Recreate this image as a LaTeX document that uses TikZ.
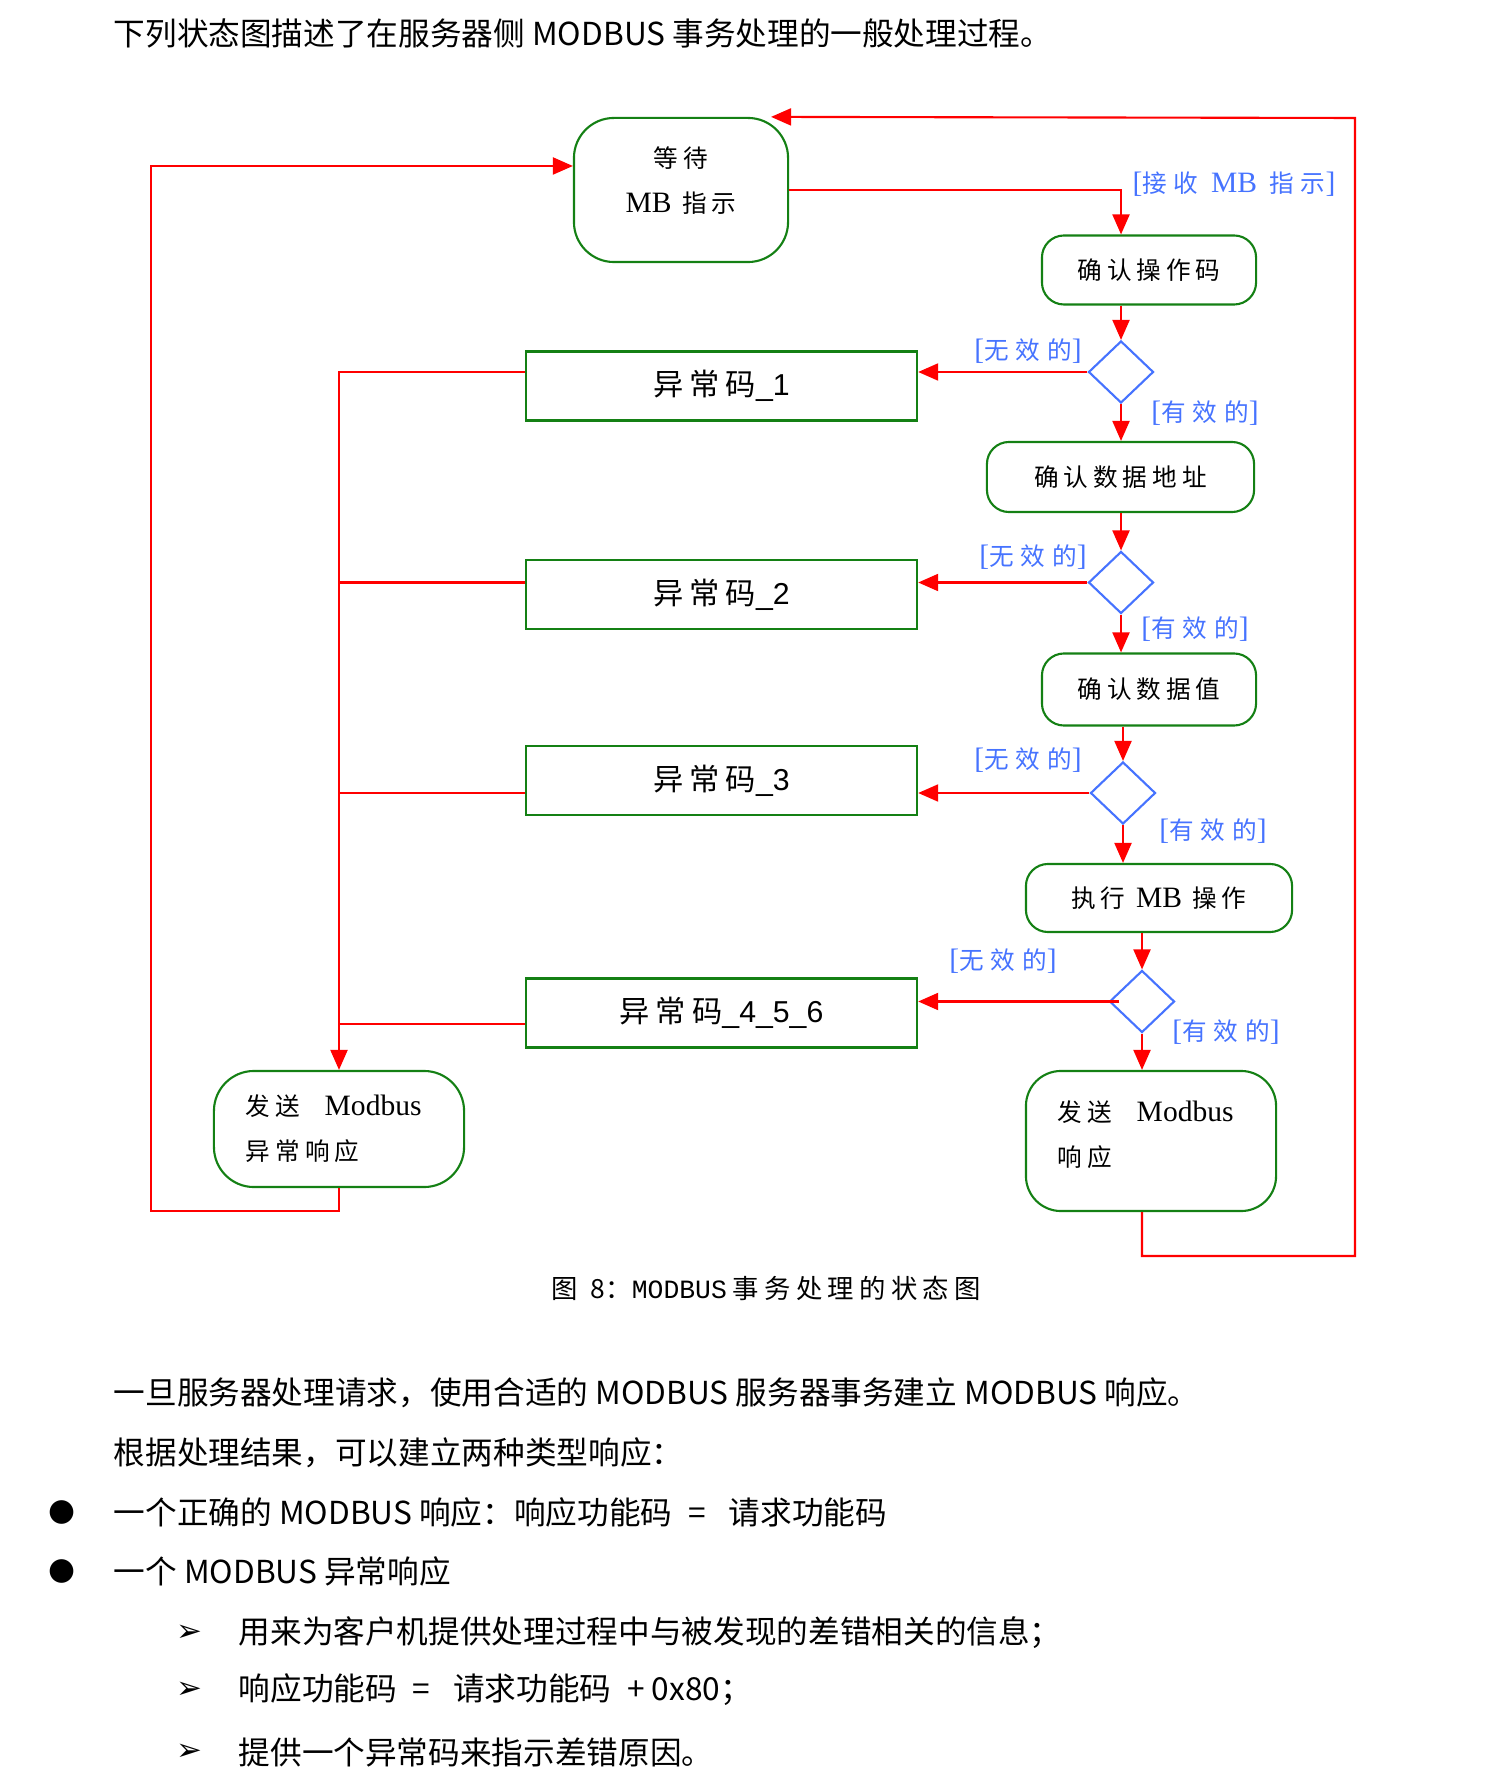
\documentclass[tikz,border=0pt]{standalone}
\usepackage{fontspec}
\usepackage{tikz}
\usetikzlibrary{arrows.meta,shapes.geometric,positioning,calc}
\newfontfamily\cjk{Noto Sans CJK SC}
\newfontfamily\cjksp[LetterSpace=20]{Noto Sans CJK SC}
\newfontfamily\cjkwide[LetterSpace=28]{Noto Sans CJK SC}
\newfontfamily\tms[Scale=1.2]{Liberation Serif}
\newfontfamily\arl{Liberation Sans}
\newfontfamily\mono{Liberation Mono}
\newfontfamily\dingfont{DejaVu Sans}
\definecolor{boxgreen}{RGB}{20,128,20}
\definecolor{guardblue}{RGB}{70,115,255}
\definecolor{flowred}{RGB}{255,0,0}

\begin{document}
\begin{tikzpicture}[x=0.01cm,y=-0.01cm,
    state/.style={draw=boxgreen,line width=0.6pt,rounded corners=0.22cm,inner sep=0pt,font=\fontsize{7}{12.8}\selectfont\cjksp},
    errbox/.style={draw=boxgreen,line width=0.6pt,minimum width=3.91cm,minimum height=0.69cm,inner sep=0pt,font=\fontsize{8.6}{10}\selectfont\cjksp},
    choice/.style={diamond,draw=guardblue,line width=0.6pt,minimum width=0.65cm,minimum height=0.62cm,inner sep=0pt},
    guard/.style={text=guardblue,inner sep=0pt,font=\fontsize{7}{8}\selectfont\cjkwide},
    flow/.style={draw=flowred,line width=0.6pt,-{Triangle[length=0.2cm,width=0.17cm]}},
    link/.style={draw=flowred,line width=0.6pt},
    para/.style={anchor=west,inner sep=0pt,font=\fontsize{9}{10}\selectfont\cjk}]
  \useasboundingbox (0,0) rectangle (1501,1777);

  \node[para] (intro) at (113,34) {下列状态图描述了在服务器侧 MODBUS 事务处理的一般处理过程。};

  \node[state,minimum width=2.14cm,minimum height=1.44cm,rounded corners=0.4cm,align=center,text depth=0.2cm] (wait) at (681,190) {等待\\{\tms MB} 指示};
  \node[state,minimum width=2.14cm,minimum height=0.69cm] (chkfc) at (1149,270) {确认操作码};
  \node[choice] (d1) at (1121,372) {};
  \node[errbox] (err1) at (721.5,386) {异常码{\arl\_1}};
  \node[state,minimum width=2.67cm,minimum height=0.70cm] (chkaddr) at (1120.5,477) {确认数据地址};
  \node[choice] (d2) at (1121,582.5) {};
  \node[errbox] (err2) at (721.5,594.5) {异常码{\arl\_2}};
  \node[state,minimum width=2.14cm,minimum height=0.72cm] (chkval) at (1149,689.5) {确认数据值};
  \node[choice] (d3) at (1123,793) {};
  \node[errbox] (err3) at (721.5,780.5) {异常码{\arl\_3}};
  \node[state,minimum width=2.66cm,minimum height=0.68cm] (exec) at (1159,898) {执行 {\tms MB} 操作};
  \node[choice] (d4) at (1142,1001.5) {};
  \node[errbox] (err4) at (721.5,1013) {异常码{\arl\_4\_5\_6}};
  \node[state,minimum width=2.50cm,minimum height=1.16cm,rounded corners=0.4cm,align=left,text width=1.86cm] (senderr) at (339,1129) {发送\quad{\tms Modbus}\\异常响应};
  \node[state,minimum width=2.50cm,minimum height=1.40cm,rounded corners=0.35cm,align=left,text width=1.86cm,text depth=0.6cm] (sendok) at (1151,1141) {发送\quad{\tms Modbus}\\响应};

  \node[guard] (grecv) at (1234,184) {{\tms[}接收 {\tms MB} 指示{\tms]}};
  \node[guard] (gno1) at (1028,351) {{\tms[}无效的{\tms]}};
  \node[guard] (gok1) at (1205,413) {{\tms[}有效的{\tms]}};
  \node[guard] (gno2) at (1033,557) {{\tms[}无效的{\tms]}};
  \node[guard] (gok2) at (1195,629) {{\tms[}有效的{\tms]}};
  \node[guard] (gno3) at (1028,760) {{\tms[}无效的{\tms]}};
  \node[guard] (gok3) at (1213,831) {{\tms[}有效的{\tms]}};
  \node[guard] (gno4) at (1003,961) {{\tms[}无效的{\tms]}};
  \node[guard] (gok4) at (1226,1032) {{\tms[}有效的{\tms]}};

  \draw[flow] (wait.east) -| (d1.north |- chkfc.north);
  \draw[flow] (d1.north |- chkfc.south) -- (d1.north);
  \draw[flow] (d1.west) -- (d1.west -| err1.east);
  \draw[flow] (d1.south) -- (d1.south |- chkaddr.north);
  \draw[flow] (d2.north |- chkaddr.south) -- (d2.north);
  \draw[flow] (d2.west) -- (d2.west -| err2.east);
  \draw[flow] (d2.south) -- (d2.south |- chkval.north);
  \draw[flow] (d3.north |- chkval.south) -- (d3.north);
  \draw[flow] (d3.west) -- (d3.west -| err3.east);
  \draw[flow] (d3.south) -- (d3.south |- exec.north);
  \draw[flow] (d4.north |- exec.south) -- (d4.north);
  \draw[flow] ([xshift=0.11cm]d4.west) -- (d4.west -| err4.east);
  \draw[flow] (d4.south) -- (d4.south |- sendok.north);

  \draw[flow] (err1.west |- d1) -| (senderr.north);
  \draw[link] (err2.west |- d2) -- (senderr.north |- d2);
  \draw[link] (err3.west |- d3) -- (senderr.north |- d3);
  \draw[link] ([yshift=-0.11cm]err4.west) -- ([yshift=-0.11cm]err4.west -| senderr.north);

  \coordinate (lb) at (151,1211);
  \coordinate (lt) at (151,166);
  \draw[flow] (senderr.south) |- (lb) -- (lt) -- (lt -| wait.west);
  \coordinate (rb) at (1355,1256);
  \coordinate (rt) at (1355,118);
  \draw[flow] (sendok.south -| d4) |- (rb) -- (rt) -- ([xshift=0.9cm]wait.north);

  \node[inner sep=0pt,font=\fontsize{7.5}{9}\selectfont\cjk] (caption) at (766,1288) {{\cjksp 图}\enspace 8：{\mono MODBUS} {\cjksp 事务处理的状态图}};

  \node[para] (line1) at (113,1393) {一旦服务器处理请求，使用合适的 MODBUS 服务器事务建立 MODBUS 响应。};
  \node[para] (line2) at (113,1453) {根据处理结果，可以建立两种类型响应：};
  \node[para] (item1) at (113,1512) {一个正确的 MODBUS 响应：响应功能码\enspace = \enspace 请求功能码};
  \node[para] (item2) at (113,1571) {一个 MODBUS 异常响应};
  \node[para] (sub1) at (238,1633) {用来为客户机提供处理过程中与被发现的差错相关的信息；};
  \node[para] (sub2) at (238,1690) {响应功能码\enspace = \enspace 请求功能码\enspace + 0x80；};
  \node[para] (sub3) at (238,1752) {提供一个异常码来指示差错原因。};
  \node[inner sep=0pt,font=\fontsize{8.8}{10}\selectfont\dingfont] (dot1) at (62,1512) {●};
  \node[inner sep=0pt,font=\fontsize{8.8}{10}\selectfont\dingfont] (dot2) at (62,1571) {●};
  \node[inner sep=0pt,font=\fontsize{8.8}{10}\selectfont\dingfont] (tip1) at (189,1633) {➢};
  \node[inner sep=0pt,font=\fontsize{8.8}{10}\selectfont\dingfont] (tip2) at (189,1690) {➢};
  \node[inner sep=0pt,font=\fontsize{8.8}{10}\selectfont\dingfont] (tip3) at (189,1752) {➢};
\end{tikzpicture}
\end{document}
